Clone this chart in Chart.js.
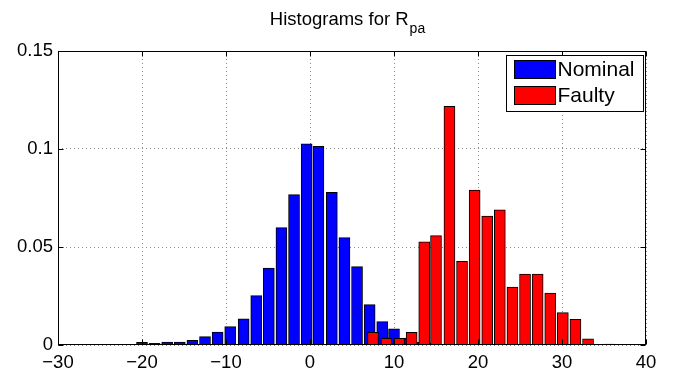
<!DOCTYPE html>
<html>
<head>
<meta charset="utf-8">
<script src="https://cdn.jsdelivr.net/npm/chart.js@4.4.0/dist/chart.umd.min.js"></script>
<style>
body { margin: 0; background: #fff; }
</style>
</head>
<body>
<canvas id="mycanvas" width="680" height="374"></canvas>
<script>
// bin centres and relative frequencies
var nominalBins = [-20.0, -18.5, -17.0, -15.5, -14.0, -12.5, -11.0, -9.5, -7.9, -6.4, -4.9, -3.4,
	-1.9, -0.4, 1.0, 2.6, 4.1, 5.6, 7.1, 8.6, 10.0, 11.5, 13.0, 14.5];
var nominalFreq = [0.0014, 0.0009, 0.0015, 0.0015, 0.0024, 0.0043, 0.0066, 0.0094, 0.0133, 0.0252, 0.0393, 0.0599,
	0.0767, 0.1026, 0.1014, 0.0779, 0.0548, 0.0400, 0.0206, 0.0119, 0.0082, 0.0035, 0.0015, 0.0008];

var faultyBins = [7.5, 9.1, 10.6, 12.1, 13.6, 15.0, 16.6, 18.1, 19.6, 21.1, 22.6, 24.1,
	25.6, 27.1, 28.6, 30.1, 31.6, 33.1, 35.6];
var faultyFreq = [0.0065, 0.0034, 0.0034, 0.0065, 0.0526, 0.0558, 0.1218, 0.0427, 0.0791, 0.0658, 0.0690, 0.0296,
	0.0362, 0.0362, 0.0265, 0.0165, 0.0131, 0.0032, 0.0005];

var seriesNames = ['Nominal', 'Faulty'];
var xTicks = [-30, -20, -10, 0, 10, 20, 30, 40];
var yTicks = [0, 0.05, 0.1, 0.15];
var titleMain = 'Histograms for R';
var titleSub = 'pa';

var FONT = '"Liberation Sans", Arial, Helvetica, sans-serif';

function toPoints(xs, ys) {
	var pts = [];
	for (var i = 0; i < xs.length; i++) {
		pts.push({ x: xs[i], y: ys[i] });
	}
	return pts;
}

// box, inward ticks, legend and title in the matlab way
var matlabFrame = {
	id: 'matlabFrame',
	afterDraw: function(chart) {
		var ctx = chart.ctx;
		var a = chart.chartArea;
		var xs = chart.scales.x, ys = chart.scales.y;
		var L = Math.round(a.left) + 0.5, R = Math.round(a.right) - 0.5;
		var T = Math.round(a.top) + 0.5, B = Math.round(a.bottom) - 0.5;
		ctx.save();
		ctx.strokeStyle = '#000';
		ctx.lineWidth = 1;
		ctx.setLineDash([]);
		ctx.strokeRect(L, T, R - L, B - T);

		ctx.beginPath();
		xTicks.forEach(function(v) {
			var p = Math.round(xs.getPixelForValue(v)) + 0.5;
			ctx.moveTo(p, B); ctx.lineTo(p, B - 5);
			ctx.moveTo(p, T); ctx.lineTo(p, T + 5);
		});
		yTicks.forEach(function(v) {
			var p = Math.round(ys.getPixelForValue(v)) + 0.5;
			ctx.moveTo(L, p); ctx.lineTo(L + 5, p);
			ctx.moveTo(R, p); ctx.lineTo(R - 5, p);
		});
		ctx.stroke();

		// legend
		var ds = chart.data.datasets;
		var lw = 137, lh = 56;
		var lx = Math.round(a.right) - 3 - lw + 0.5, ly = Math.round(a.top) + 4 + 0.5;
		ctx.fillStyle = '#fff';
		ctx.fillRect(lx, ly, lw, lh);
		ctx.strokeRect(lx, ly, lw, lh);
		ctx.font = '21px ' + FONT;
		ctx.textBaseline = 'middle';
		ctx.textAlign = 'left';
		for (var i = 0; i < ds.length; i++) {
			var sy = ly + 5 + i * 26;
			ctx.fillStyle = ds[i].backgroundColor;
			ctx.fillRect(lx + 8, sy, 41, 18);
			ctx.strokeRect(lx + 8, sy, 41, 18);
			ctx.fillStyle = '#000';
			ctx.fillText(seriesNames[i], lx + 51, sy + 10);
		}

		// title with subscript
		ctx.font = '18.5px ' + FONT;
		var w1 = ctx.measureText(titleMain).width;
		ctx.font = '14px ' + FONT;
		var w2 = ctx.measureText(titleSub).width;
		var cx = (a.left + a.right) / 2 - 5;
		var x0 = cx - (w1 + w2) / 2;
		ctx.fillStyle = '#000';
		ctx.textBaseline = 'alphabetic';
		ctx.font = '18.5px ' + FONT;
		ctx.fillText(titleMain, x0, 25);
		ctx.font = '14px ' + FONT;
		ctx.fillText(titleSub, x0 + w1 + 1, 33);
		ctx.restore();
	}
};

var ctx = document.getElementById('mycanvas');

var chart = new Chart(ctx, {
	type: 'bar',
	data: {
		datasets: [
			{
				label: seriesNames[0],
				data: toPoints(nominalBins, nominalFreq),
				backgroundColor: '#0000ff',
				borderColor: '#000',
				borderWidth: 1,
				barThickness: 11,
				grouped: false,
				order: 2
			},
			{
				label: seriesNames[1],
				data: toPoints(faultyBins, faultyFreq),
				backgroundColor: '#ff0000',
				borderColor: '#000',
				borderWidth: 1,
				barThickness: 11,
				grouped: false,
				order: 1
			}
		]
	},
	options: {
		responsive: false,
		animation: false,
		devicePixelRatio: 1,
		layout: { padding: { top: 51, right: 34, left: 0, bottom: 0 } },
		plugins: {
			legend: { display: false },
			title: { display: false },
			tooltip: { enabled: false }
		},
		scales: {
			x: {
				type: 'linear',
				offset: false,
				min: -30,
				max: 40,
				afterBuildTicks: function(scale) {
					scale.ticks = xTicks.map(function(v) { return { value: v }; });
				},
				afterFit: function(scale) { scale.height = 29; },
				grid: { offset: false, color: '#8a8a8a', lineWidth: 1, drawTicks: false },
				border: { display: false, dash: [1, 3] },
				ticks: {
					padding: 7,
					maxRotation: 0,
					color: '#000',
					font: { family: FONT, size: 18.5 },
					callback: function(v) { return String(v).replace('-', '\u2212'); }
				}
			},
			y: {
				min: 0,
				max: 0.15,
				afterBuildTicks: function(scale) {
					scale.ticks = yTicks.map(function(v) { return { value: v }; });
				},
				afterFit: function(scale) { scale.width = 58; },
				grid: { offset: false, color: '#8a8a8a', lineWidth: 1, drawTicks: false },
				border: { display: false, dash: [1, 3] },
				ticks: {
					padding: 5,
					color: '#000',
					font: { family: FONT, size: 18.5 },
					callback: function(v) { return String(v); }
				}
			}
		}
	},
	plugins: [matlabFrame]
});
</script>
</body>
</html>
